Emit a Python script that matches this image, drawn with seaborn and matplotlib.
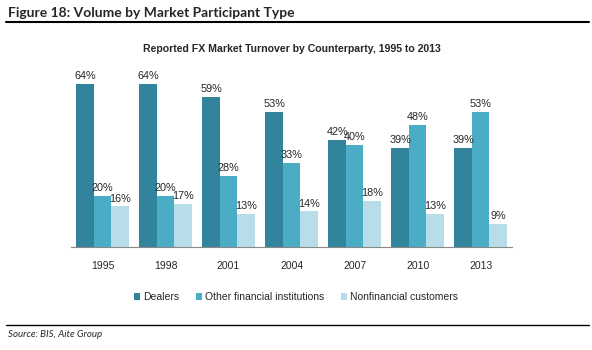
import numpy as np
import matplotlib
matplotlib.use("Agg")
import matplotlib.pyplot as plt
import seaborn as sns
import pandas as pd

# valeurs (%)
years = ["1995", "1998", "2001", "2004", "2007", "2010", "2013"]
dealers = [64, 64, 59, 53, 42, 39, 39]
other_fin = [20, 20, 28, 33, 40, 48, 53]
nonfin = [16, 17, 13, 14, 18, 13, 9]
series_names = ["Dealers", "Other financial institutions", "Nonfinancial customers"]
colors = ["#31849B", "#4BACC6", "#B7DEE8"]

df = pd.DataFrame({
    "year": years * 3,
    "share": dealers + other_fin + nonfin,
    "type": [series_names[0]] * 7 + [series_names[1]] * 7 + [series_names[2]] * 7,
})

sns.set_style("white")
plt.rcParams["font.family"] = ["Liberation Sans", "DejaVu Sans"]

fig = plt.figure(figsize=(5.92, 3.5), dpi=100)
ax = fig.add_axes([0.12, 0.294, 0.745, 0.51])

sns.barplot(data=df, x="year", y="share", hue="type", palette=colors,
            width=0.83, saturation=1, linewidth=0, ax=ax, legend=True)

for cont in ax.containers:
    ax.bar_label(cont, fmt="%g%%", padding=2, fontsize=7.8)

ax.set_ylim(0, 70)
ax.set_yticks([])
ax.set_xlabel("")
ax.set_ylabel("")
sns.despine(ax=ax, left=True)
ax.spines["bottom"].set_color("#888888")
ax.spines["bottom"].set_linewidth(0.8)
ax.tick_params(axis="x", length=0, labelsize=7.5, pad=10)

ax.legend(loc="upper center", bbox_to_anchor=(0.51, -0.2), ncol=3, frameon=False,
          fontsize=7.5, handlelength=0.6, handleheight=0.6, handletextpad=0.3,
          columnspacing=1.6)

ax.set_title("Reported FX Market Turnover by Counterparty, 1995 to 2013",
             fontsize=7.6, fontweight="bold", pad=12)

# en-tête et pied de page
fig.text(0.014, 0.963, "Figure 18: Volume by Market Participant Type", fontsize=10,
         fontweight="bold", family="Lato", va="center")
fig.add_artist(plt.Line2D([0.01, 0.995], [0.938, 0.938], color="black", lw=1.5))
fig.add_artist(plt.Line2D([0.01, 0.995], [0.072, 0.072], color="black", lw=1.0))
fig.text(0.014, 0.043, "Source: BIS, Aite Group", fontsize=7, style="italic",
         family="Lato", va="center")

fig.savefig("out.png", dpi=100)
